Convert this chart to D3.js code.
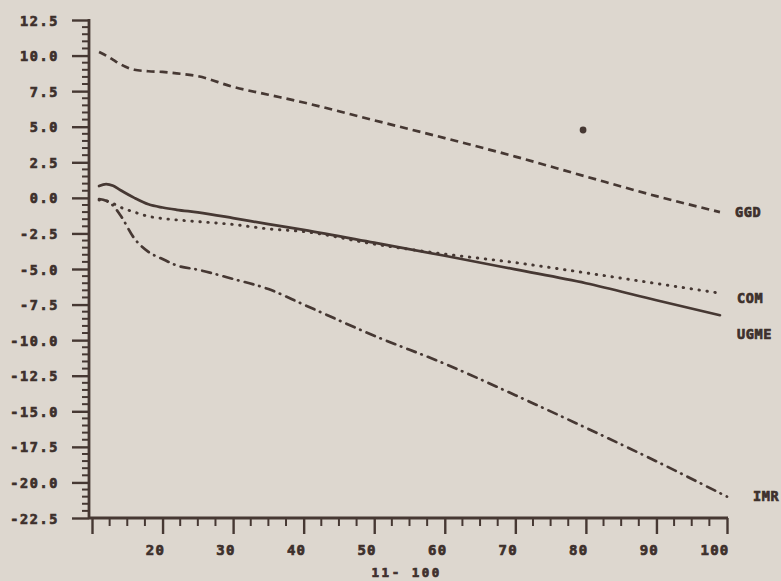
<!DOCTYPE html>
<html>
<head>
<meta charset="utf-8">
<script src="https://cdn.jsdelivr.net/npm/d3@7/dist/d3.min.js"></script>
<style>
  html, body { margin: 0; padding: 0; background: #ddd7cf; }
  svg { display: block; }
  text { font-family: "DejaVu Sans Mono", monospace; font-weight: bold; fill: #3d302c;
         stroke: #3d302c; stroke-width: 0.7px; }
</style>
</head>
<body>
<svg id="chart" width="781" height="581"></svg>
<script>
// Sample positions (x) shared by the upper three curves
const xs = [11, 12, 13, 14, 16, 18, 20, 22, 25, 30, 35, 40, 50, 60, 70, 80, 90, 99];

const ggd  = [10.25, 10.0, 9.7, 9.4, 9.0, 8.9, 8.85, 8.75, 8.55, 7.8, 7.25, 6.7, 5.45, 4.2, 2.9, 1.5, 0.12, -1.0];
const ugme = [0.83, 0.97, 0.85, 0.55, 0.0, -0.45, -0.68, -0.84, -1.02, -1.42, -1.85, -2.25, -3.15, -4.07, -5.03, -6.0, -7.2, -8.25];
const com  = [-0.15, -0.2, -0.4, -0.65, -1.0, -1.3, -1.45, -1.55, -1.67, -1.87, -2.18, -2.37, -3.25, -3.95, -4.55, -5.27, -6.02, -6.7];
const imrX = [11, 12, 13, 14, 16, 18, 20, 22, 25, 30, 35, 40, 50, 60, 70, 80, 90, 100];
const imr  = [-0.08, -0.2, -0.55, -1.2, -2.85, -3.8, -4.3, -4.75, -5.05, -5.7, -6.41, -7.5, -9.69, -11.66, -13.87, -16.16, -18.52, -21.0];

// Stray mark near the upper curve
const markX = [79.6];
const markY = [4.77];

// Axis ticks
const xMajor = [20, 30, 40, 50, 60, 70, 80, 90, 100];
const yMajor = [12.5, 10, 7.5, 5, 2.5, 0, -2.5, -5, -7.5, -10, -12.5, -15, -17.5, -20, -22.5];
const xTitle = "11- 100";

const series = [
  { name: "GGD",  xs: xs,   ys: ggd,  dash: "8,5",          cap: "butt",  width: 2.7, lx: 735, dy: 5 },
  { name: "UGME", xs: xs,   ys: ugme, dash: null,           cap: "round", width: 2.7, lx: 737, dy: 24 },
  { name: "COM",  xs: xs,   ys: com,  dash: "0.5,7.5",      cap: "round", width: 2.9, lx: 737, dy: 10 },
  { name: "IMR",  xs: imrX, ys: imr,  dash: "9,6,0.5,6.5",  cap: "round", width: 2.7, lx: 753, dy: 4 }
];

const ink = "#463833";
const svg = d3.select("#chart");

const x = d3.scaleLinear().domain([10, 100]).range([92, 727]);
const y = d3.scaleLinear().domain([-22.5, 12.5]).range([518, 20]);
const yAxisX = 89;

// --- y axis: major ticks with labels, minor ticks every 0.5
const yAxis = d3.axisLeft(y)
  .tickValues(yMajor)
  .tickSize(17)
  .tickPadding(13)
  .tickFormat(d => d.toFixed(1));
const gy = svg.append("g").attr("transform", `translate(${yAxisX},0)`).call(yAxis);
gy.select(".domain").remove();
gy.selectAll(".tick line").attr("stroke", ink).attr("stroke-width", 2.4);
gy.selectAll(".tick text").style("font-size", "13.5px").style("letter-spacing", "1.6px")
  .attr("fill", "#3d302c").attr("dy", "0.38em");

const yMinor = d3.range(-22.5, 12.51, 0.5).filter(v => Math.abs((v / 2.5) - Math.round(v / 2.5)) > 1e-6);
svg.append("g").selectAll("line").data(yMinor).join("line")
  .attr("x1", yAxisX - 7).attr("x2", yAxisX)
  .attr("y1", d => y(d)).attr("y2", d => y(d))
  .attr("stroke", ink).attr("stroke-width", 2);

svg.append("line")
  .attr("x1", yAxisX).attr("x2", yAxisX)
  .attr("y1", y(12.5) - 1).attr("y2", y(-22.5))
  .attr("stroke", ink).attr("stroke-width", 2.8);

// --- x axis: major ticks every 10, minor every 2.5, labels right-aligned to their tick
const xAxis = d3.axisBottom(x)
  .tickValues([10].concat(xMajor))
  .tickSize(16)
  .tickPadding(10)
  .tickFormat(d => d === 10 ? "" : d);
const gx = svg.append("g").attr("transform", `translate(0,${y(-22.5)})`).call(xAxis);
gx.select(".domain").remove();
gx.selectAll(".tick line").attr("stroke", ink).attr("stroke-width", 2.4);
gx.selectAll(".tick text").style("font-size", "14px").style("letter-spacing", "1.2px")
  .attr("text-anchor", "end").attr("x", 2).attr("dy", "0.8em").attr("fill", "#3d302c");

const xMinor = d3.range(12.5, 100, 2.5).filter(v => v % 10 !== 0);
svg.append("g").selectAll("line").data(xMinor).join("line")
  .attr("x1", d => x(d)).attr("x2", d => x(d))
  .attr("y1", y(-22.5)).attr("y2", y(-22.5) + 8)
  .attr("stroke", ink).attr("stroke-width", 2);

svg.append("line")
  .attr("x1", yAxisX).attr("x2", x(100) + 1)
  .attr("y1", y(-22.5)).attr("y2", y(-22.5))
  .attr("stroke", ink).attr("stroke-width", 2.8);

svg.append("text")
  .attr("x", x(60) - 3).attr("y", 577)
  .attr("text-anchor", "end")
  .style("font-size", "12.5px").style("letter-spacing", "2.5px")
  .text(xTitle);

// --- curves
const line = d3.line()
  .x(d => x(d[0]))
  .y(d => y(d[1]))
  .curve(d3.curveMonotoneX);

series.forEach(s => {
  const pts = s.xs.map((v, i) => [v, s.ys[i]]);
  svg.append("path")
    .datum(pts)
    .attr("d", line)
    .attr("fill", "none")
    .attr("stroke", ink)
    .attr("stroke-width", s.width)
    .attr("stroke-linecap", s.cap)
    .attr("stroke-linejoin", "round")
    .attr("stroke-dasharray", s.dash);

  const last = pts[pts.length - 1];
  svg.append("text")
    .attr("x", s.lx)
    .attr("y", y(last[1]) + s.dy)
    .style("font-size", "13.5px")
    .style("letter-spacing", "0.6px")
    .text(s.name);
});

// stray ink mark
svg.append("g").selectAll("circle").data(markX.map((v, i) => [v, markY[i]])).join("circle")
  .attr("cx", d => x(d[0])).attr("cy", d => y(d[1]))
  .attr("r", 3.4).attr("fill", ink);
</script>
</body>
</html>
